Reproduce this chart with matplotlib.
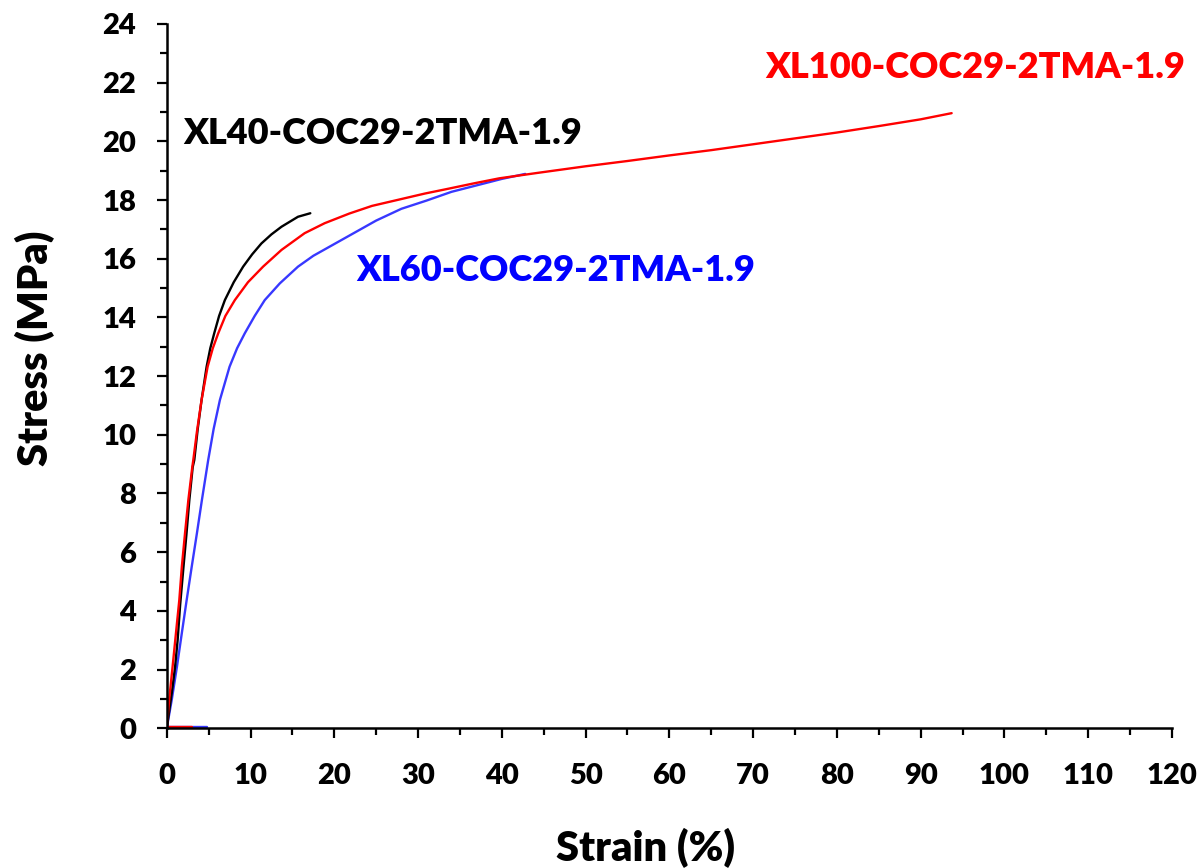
import numpy as np
import matplotlib.pyplot as plt
from matplotlib.ticker import MultipleLocator

plt.rcParams['font.family'] = ['Lato', 'DejaVu Sans']
plt.rcParams['font.weight'] = 'heavy'

# stress-strain curves, strain in %, stress in MPa
strain_xl40 = [0, 0.3, 0.65, 1.0, 1.3, 1.6, 2.0, 2.35, 2.7, 3.1, 3.29, 3.7, 4.16, 4.76, 5.2, 5.67, 6.25, 6.94,
               8.0, 9.12, 10.2, 11.3, 12.5, 13.7, 15.67, 17.14]
stress_xl40 = [0, 0.6, 1.3, 2.1, 3.0, 4.2, 5.5, 6.6, 7.78, 8.9, 9.14, 10.2, 11.19, 12.32, 12.95, 13.46, 14.05, 14.59,
               15.2, 15.73, 16.15, 16.52, 16.83, 17.09, 17.43, 17.55]

strain_xl100 = [0, 0.3, 0.7, 1.1, 1.5, 1.8, 2.18, 2.58, 3.05, 3.17, 3.6, 4.16, 4.88, 5.5, 6.15, 7.0, 8.13, 9.7, 11.5,
                13.7, 16.46, 18.85, 21.8, 24.5, 27.8, 30.8, 33.7, 36.7, 39.7, 44.4, 50, 55, 60, 65, 70, 75, 80, 85,
                90, 93.7]
stress_xl100 = [0, 1.0, 2.1, 3.24, 4.37, 5.5, 6.64, 7.78, 8.9, 9.14, 10.1, 11.19, 12.32, 12.95, 13.46, 14.05, 14.59,
                15.2, 15.73, 16.3, 16.87, 17.21, 17.54, 17.8, 18.02, 18.22, 18.39, 18.57, 18.74, 18.93, 19.15, 19.33,
                19.52, 19.7, 19.9, 20.1, 20.3, 20.52, 20.75, 20.96]

strain_xl60 = [0, 0.6, 1.22, 1.8, 2.38, 2.98, 3.6, 4.2, 4.95, 5.6, 6.35, 7.5, 8.4, 9.32, 10.5, 11.7, 13.5, 15.67,
               17.5, 20.0, 22.5, 25.0, 28.0, 31.0, 34.0, 37.0, 40.0, 42.8]
stress_xl60 = [0, 0.97, 2.1, 3.24, 4.37, 5.5, 6.64, 7.78, 9.14, 10.2, 11.19, 12.32, 12.95, 13.46, 14.05, 14.59, 15.16,
               15.73, 16.1, 16.5, 16.9, 17.3, 17.7, 17.98, 18.28, 18.5, 18.72, 18.89]

# short zero-load segments recorded before the tests
zero_strain_xl100 = [0, 3.0]
zero_strain_xl60 = [0, 4.8]

fig, ax = plt.subplots(figsize=(12.03, 8.68), dpi=100)
fig.subplots_adjust(left=0.1386, right=0.9742, bottom=0.161, top=0.9724)

line_kw = dict(lw=1.7, solid_joinstyle='round', solid_capstyle='round')
ax.plot(zero_strain_xl60, [0.03, 0.03], color='#3838ff', **line_kw)
ax.plot(zero_strain_xl100, [0.05, 0.05], color='#ff0000', **line_kw)
ax.plot(strain_xl60, stress_xl60, color='#3838ff', **line_kw)
ax.plot(strain_xl40, stress_xl40, color='black', **line_kw)
ax.plot(strain_xl100, stress_xl100, color='#ff0000', **line_kw)

ax.text(1.94, 20.28, 'XL40-COC29-2TMA-1.9', color='black', fontsize=26, fontweight='heavy', va='center', ha='left')
ax.text(22.65, 15.6, 'XL60-COC29-2TMA-1.9', color='#0000ff', fontsize=26, fontweight='heavy', va='center', ha='left')
ax.text(71.4, 22.5, 'XL100-COC29-2TMA-1.9', color='#ff0000', fontsize=26, fontweight='heavy', va='center', ha='left')

ax.set_xlim(0, 120)
ax.set_ylim(0, 24)
ax.xaxis.set_major_locator(MultipleLocator(10))
ax.xaxis.set_minor_locator(MultipleLocator(5))
ax.yaxis.set_major_locator(MultipleLocator(2))
ax.yaxis.set_minor_locator(MultipleLocator(1))

for side in ['top', 'right']:
    ax.spines[side].set_visible(False)
for side in ['left', 'bottom']:
    ax.spines[side].set_linewidth(1.8)

ax.tick_params(which='major', direction='out', length=7, width=1.6, labelsize=21)
ax.tick_params(which='minor', direction='out', length=5, width=1.6)
ax.tick_params(axis='x', which='major', pad=18)
ax.tick_params(axis='y', which='major', pad=15)
for lab in ax.get_xticklabels() + ax.get_yticklabels():
    lab.set_fontweight('heavy')

ax.set_xlabel('Strain (%)', fontsize=30, fontweight='heavy')
ax.set_ylabel('Stress (MPa)', fontsize=30, fontweight='heavy')
ax.xaxis.label.set_va('center')
ax.yaxis.label.set_va('center')
ax.xaxis.set_label_coords(0.476, -0.17)
ax.yaxis.set_label_coords(-0.131, 0.54)

plt.savefig('out.png')
